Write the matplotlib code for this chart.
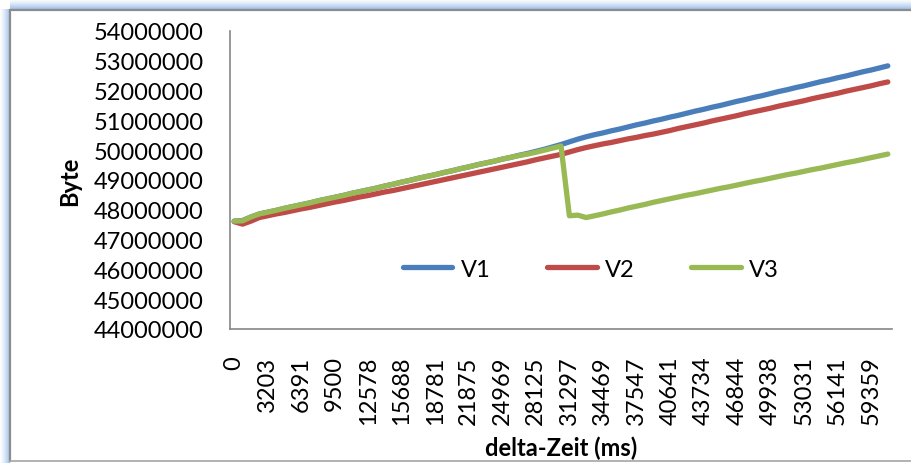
import numpy as np
import matplotlib
matplotlib.use("Agg")
import matplotlib.pyplot as plt
from matplotlib.lines import Line2D

plt.rcParams['font.family'] = ['Lato', 'DejaVu Sans']

# category labels shown on the time axis (every 4th sample)
zeit_labels = ["0", "3203", "6391", "9500", "12578", "15688", "18781", "21875",
               "24969", "28125", "31297", "34469", "37547", "40641", "43734",
               "46844", "49938", "53031", "56141", "59359"]
label_step = 4

# memory usage in bytes, one value per sample
v1 = [47620000, 47640000, 47760000, 47860000, 47920000, 47980000, 48050000, 48110000,
      48170000, 48230000, 48300000, 48360000, 48420000, 48480000, 48550000, 48610000,
      48670000, 48730000, 48800000, 48860000, 48930000, 48990000, 49060000, 49120000,
      49180000, 49250000, 49310000, 49380000, 49440000, 49510000, 49570000, 49630000,
      49700000, 49760000, 49830000, 49890000, 49960000, 50030000, 50110000, 50190000,
      50280000, 50370000, 50450000, 50520000, 50580000, 50650000, 50710000, 50780000,
      50850000, 50910000, 50980000, 51040000, 51110000, 51170000, 51240000, 51310000,
      51370000, 51440000, 51500000, 51570000, 51640000, 51700000, 51770000, 51830000,
      51900000, 51970000, 52030000, 52100000, 52160000, 52230000, 52300000, 52360000,
      52430000, 52490000, 52560000, 52630000, 52690000, 52760000, 52830000]

v2 = [47600000, 47520000, 47620000, 47740000, 47800000, 47860000, 47910000, 47970000,
      48030000, 48080000, 48140000, 48200000, 48260000, 48310000, 48370000, 48430000,
      48480000, 48540000, 48600000, 48650000, 48710000, 48770000, 48830000, 48890000,
      48950000, 49010000, 49070000, 49130000, 49190000, 49250000, 49310000, 49370000,
      49430000, 49490000, 49550000, 49610000, 49680000, 49740000, 49800000, 49860000,
      49940000, 50020000, 50090000, 50150000, 50210000, 50260000, 50320000, 50380000,
      50430000, 50490000, 50540000, 50600000, 50660000, 50730000, 50790000, 50850000,
      50910000, 50980000, 51040000, 51100000, 51160000, 51230000, 51290000, 51350000,
      51410000, 51480000, 51540000, 51600000, 51660000, 51730000, 51790000, 51850000,
      51910000, 51980000, 52040000, 52100000, 52160000, 52230000, 52290000]

v3 = [47620000, 47630000, 47760000, 47860000, 47920000, 47980000, 48050000, 48110000,
      48170000, 48230000, 48300000, 48360000, 48420000, 48480000, 48550000, 48610000,
      48670000, 48730000, 48800000, 48860000, 48930000, 48990000, 49060000, 49120000,
      49180000, 49250000, 49310000, 49380000, 49440000, 49510000, 49570000, 49630000,
      49700000, 49760000, 49820000, 49870000, 49930000, 50000000, 50070000, 50140000,
      47800000, 47820000, 47740000, 47800000, 47860000, 47930000, 47990000, 48060000,
      48120000, 48180000, 48250000, 48310000, 48370000, 48430000, 48490000, 48540000,
      48600000, 48660000, 48720000, 48770000, 48830000, 48890000, 48950000, 49000000,
      49060000, 49120000, 49180000, 49230000, 49290000, 49350000, 49400000, 49460000,
      49520000, 49580000, 49630000, 49690000, 49750000, 49810000, 49870000]

series = [("V1", v1, "#4A7EBB"), ("V2", v2, "#BE4B48"), ("V3", v3, "#98B954")]

W, H = 912, 464
fig = plt.figure(figsize=(W / 100, H / 100), dpi=100)

# chart-area frame with a soft blue glow on the upper and left edges
bg = fig.add_axes([0, 0, 1, 1], zorder=-10)
bg.set_xlim(0, W)
bg.set_ylim(H, 0)
bg.axis("off")
glow = np.array([[0.55, 0.71, 0.91]])
ramp = np.linspace(0, 1, 64)
img_v = np.ones((1, 64, 4))
img_v[..., :3] = glow
img_v[..., 3] = ramp ** 1.3 * 0.85
bg.imshow(img_v, extent=(0, 10, H, 10), aspect="auto", interpolation="bilinear")
img_h = np.ones((64, 1, 4))
img_h[..., :3] = glow
img_h[..., 3] = (ramp ** 1.3 * 0.85)[:, None]
bg.imshow(img_h, extent=(10, W, 10, 0), aspect="auto", interpolation="bilinear")
bg.plot([10.5, 10.5, W + 2], [H - 2.5, 10.5, 10.5], color="#8C8C8C", lw=1.6,
        solid_joinstyle="miter")
bg.plot([10.5, W + 2], [H - 2.5, H - 2.5], color="#A6A6A6", lw=1.2)
bg.set_xlim(0, W)
bg.set_ylim(H, 0)

ax = fig.add_axes([230 / W, 1 - 330 / H, 662 / W, 298 / H])
x = np.arange(len(v1))
for name, vals, col in series:
    ax.plot(x, vals, color=col, lw=3.8, solid_capstyle="round",
            solid_joinstyle="round", label=name)

ax.set_xlim(-0.5, len(v1) - 0.5)
ax.set_ylim(44000000, 54000000)
ax.set_yticks(np.arange(44000000, 54000001, 1000000))
ax.set_yticklabels([f"{v:d}" for v in range(44000000, 54000001, 1000000)])
ax.set_xticks(np.arange(0, len(zeit_labels) * label_step, label_step))
ax.set_xticklabels(zeit_labels, rotation=90)

for s in ["top", "right"]:
    ax.spines[s].set_visible(False)
for s in ["left", "bottom"]:
    ax.spines[s].set_color("#868686")
    ax.spines[s].set_linewidth(1.2)
ax.tick_params(axis="both", length=0, labelsize=17, colors="black")
ax.tick_params(axis="y", pad=19)
ax.tick_params(axis="x", pad=19)

ax.set_ylabel("Byte", fontsize=17, fontweight="bold", labelpad=9)
ax.set_xlabel("delta-Zeit (ms)", fontsize=17, fontweight="bold", labelpad=8)

handles = [Line2D([0], [0], color=c, lw=3.8, solid_capstyle="round") for _, _, c in series]
ax.legend(handles, [n for n, _, _ in series], loc="center",
          bbox_to_anchor=(0.545, 0.201), ncol=3, frameon=False, fontsize=17,
          handlelength=2.1, handletextpad=0.35, columnspacing=2.4)

fig.savefig("out.png", dpi=100)
